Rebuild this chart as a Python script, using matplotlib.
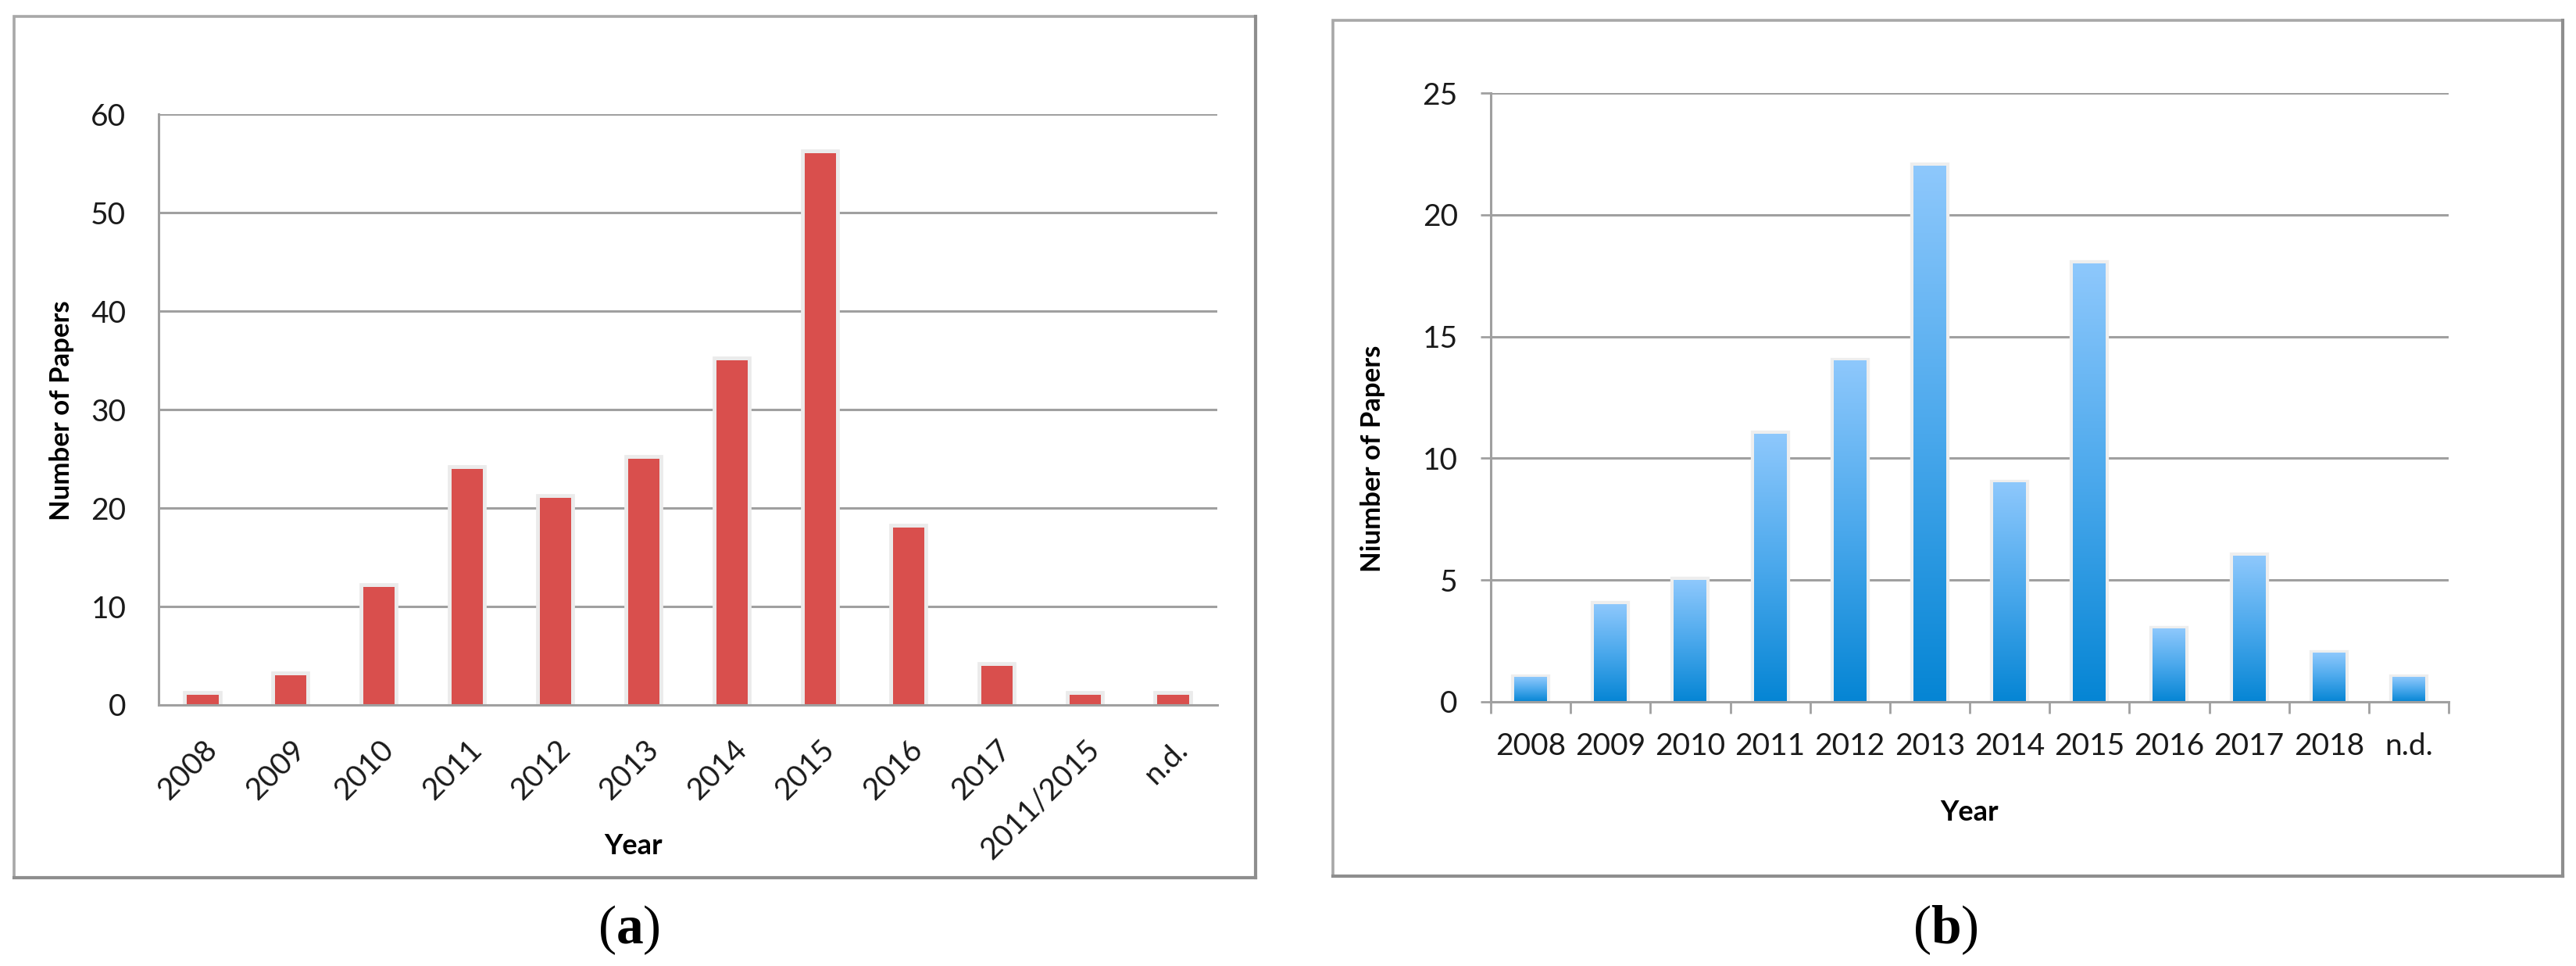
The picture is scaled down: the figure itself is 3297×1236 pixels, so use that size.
import numpy as np
import matplotlib.pyplot as plt
import matplotlib.patheffects as pe
from matplotlib.colors import LinearSegmentedColormap
from matplotlib.patches import Rectangle

# (a) papers per year
years_a = ['2008', '2009', '2010', '2011', '2012', '2013', '2014', '2015',
           '2016', '2017', '2011/2015', 'n.d.']
papers_a = [1, 3, 12, 24, 21, 25, 35, 56, 18, 4, 1, 1]

# (b) papers per year
years_b = ['2008', '2009', '2010', '2011', '2012', '2013', '2014', '2015',
           '2016', '2017', '2018', 'n.d.']
papers_b = [1, 4, 5, 11, 14, 22, 9, 18, 3, 6, 2, 1]

plt.rcParams['font.family'] = ['Lato', 'DejaVu Sans']
plt.rcParams['mathtext.fontset'] = 'custom'
plt.rcParams['mathtext.rm'] = 'Liberation Serif'
plt.rcParams['mathtext.bf'] = 'Liberation Serif:bold'

W, H = 3298, 1236
fig = plt.figure(figsize=(W / 100, H / 100), dpi=100)

grid_color = '#a0a0a0'
text_color = '#1a1a1a'

# panel frames
for x0, y0, x1, y1 in [(18, 21, 1607, 1123), (1706, 26, 3280, 1121)]:
    fig.add_artist(Rectangle((x0 / W, 1 - y1 / H), (x1 - x0) / W, (y1 - y0) / H,
                             transform=fig.transFigure, fill=False,
                             edgecolor='#a8a8a8', linewidth=2.6))
    fig.add_artist(plt.Line2D([x0 / W, x1 / W], [1 - y1 / H, 1 - y1 / H],
                              transform=fig.transFigure, color='#8e8e8e', linewidth=3))
    fig.add_artist(plt.Line2D([x1 / W, x1 / W], [1 - y1 / H, 1 - y0 / H],
                              transform=fig.transFigure, color='#8e8e8e', linewidth=3))


def style_axes(ax):
    for s in ['top', 'right']:
        ax.spines[s].set_visible(False)
    for s in ['left', 'bottom']:
        ax.spines[s].set_color(grid_color)
        ax.spines[s].set_linewidth(2.2)
        ax.spines[s].set_zorder(5)
    ax.yaxis.grid(True, color=grid_color, linewidth=2.2)
    ax.set_axisbelow(True)


# ---- (a) ----
ax1 = fig.add_axes([203 / W, 1 - 902 / H, (1558 - 203) / W, (902 - 146) / H])
x_a = np.arange(len(years_a))
ax1.bar(x_a, papers_a, width=0.355, color='#d94f4d', zorder=3,
        path_effects=[pe.withStroke(linewidth=7, foreground='#ebebeb')])
ax1.set_xlim(-0.5, len(years_a) - 0.5)
ax1.set_ylim(0, 60)
ax1.set_yticks(range(0, 61, 10))
style_axes(ax1)
ax1.tick_params(axis='y', length=0, pad=30, labelsize=28, labelcolor=text_color)
ax1.set_xticks(x_a)
ax1.set_xticklabels(years_a, rotation=45, ha='right', rotation_mode='anchor')
ax1.tick_params(axis='x', length=0, pad=28, labelsize=28, labelcolor=text_color)
ax1.set_ylabel('Number of Papers', fontsize=25, fontweight='bold', va='center')
ax1.yaxis.set_label_coords(-0.0915, 0.4987)
ax1.set_xlabel('Year', fontsize=26, fontweight='bold', va='baseline')
ax1.xaxis.set_label_coords(0.4487, -0.2526)

# ---- (b) ----
ax2 = fig.add_axes([1908 / W, 1 - 898 / H, (3134 - 1908) / W, (898 - 119) / H])
x_b = np.arange(len(years_b))
bars_b = ax2.bar(x_b, papers_b, width=0.41, color='white', zorder=2,
                 path_effects=[pe.withStroke(linewidth=6, foreground='#eeeeee')])
blues = LinearSegmentedColormap.from_list('bar_blue', ['#0585d4', '#4aa8ec', '#8ec8fc'])
grad = np.linspace(0, 1, 256).reshape(-1, 1)
for b in bars_b:
    ax2.imshow(grad, extent=[b.get_x(), b.get_x() + b.get_width(), 0, b.get_height()],
               origin='lower', aspect='auto', cmap=blues, zorder=3)
ax2.set_xlim(-0.5, len(years_b) - 0.5)
ax2.set_ylim(0, 25)
ax2.set_yticks(range(0, 26, 5))
style_axes(ax2)
ax2.tick_params(axis='y', length=9.4, width=2, color=grid_color, pad=21,
                labelsize=28, labelcolor=text_color)
ax2.set_xticks(x_b)
ax2.set_xticklabels(years_b)
ax2.set_xticks(np.arange(-0.5, len(years_b)), minor=True)
ax2.tick_params(axis='x', which='major', length=0, pad=28, labelsize=28,
                labelcolor=text_color)
ax2.tick_params(axis='x', which='minor', length=11, width=2, color=grid_color)
ax2.set_ylabel('Niumber of Papers', fontsize=25, fontweight='bold', va='center')
ax2.yaxis.set_label_coords(-0.1232, 0.399)
ax2.set_xlabel('Year', fontsize=26, fontweight='bold', va='baseline')
ax2.xaxis.set_label_coords(0.5, -0.195)

# panel captions
fig.text(805 / W, 1 - 1190 / H, r'($\mathbf{a}$)', family='Liberation Serif',
         fontsize=50, ha='center', va='center')
fig.text(2490 / W, 1 - 1190 / H, r'($\mathbf{b}$)', family='Liberation Serif',
         fontsize=50, ha='center', va='center')

fig.savefig('out.png', dpi=100, facecolor='white')
